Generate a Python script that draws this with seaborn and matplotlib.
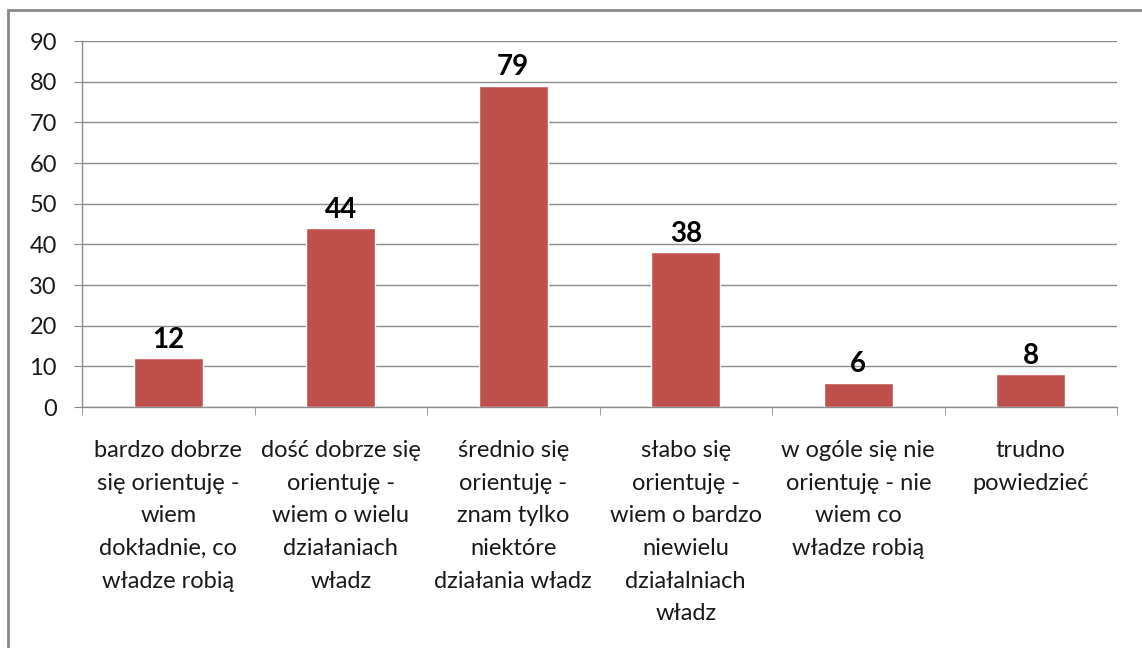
import numpy as np
import pandas as pd
import matplotlib
matplotlib.use('Agg')
import matplotlib.pyplot as plt
import seaborn as sns

kategorie = [
    'bardzo dobrze\nsię orientuję -\nwiem\ndokładnie, co\nwładze robią',
    'dość dobrze się\norientuję -\nwiem o wielu\ndziałaniach\nwładz',
    'średnio się\norientuję -\nznam tylko\nniektóre\ndziałania władz',
    'słabo się\norientuję -\nwiem o bardzo\nniewielu\ndziałalniach\nwładz',
    'w ogóle się nie\norientuję - nie\nwiem co\nwładze robią',
    'trudno\npowiedzieć',
]
wartosci = [12, 44, 79, 38, 6, 8]
y_ticks = list(range(0, 91, 10))

df = pd.DataFrame({'kat': kategorie, 'n': wartosci})

sns.set_style("white")
plt.rcParams['font.family'] = ['Lato', 'DejaVu Sans']

fig = plt.figure(figsize=(11.42, 6.48), dpi=100)
ax = fig.add_axes([82 / 1142, (648 - 407) / 648, (1117 - 82) / 1142, (407 - 41) / 648])

sns.barplot(data=df, x='kat', y='n', color='#C0504D', width=0.4, saturation=1, ax=ax, zorder=3)

ax.set_ylim(0, 90)
ax.set_xlim(-0.5, len(kategorie) - 0.5)
ax.set_yticks(y_ticks)
ax.yaxis.grid(True, color='#8c8c8c', linewidth=1.0, zorder=0)
ax.set_axisbelow(True)
ax.set_xlabel('')
ax.set_ylabel('')

for s in ['top', 'right']:
    ax.spines[s].set_visible(False)
for s in ['left', 'bottom']:
    ax.spines[s].set_color('#8c8c8c')
    ax.spines[s].set_linewidth(1.0)

ax.tick_params(axis='y', length=6, color='#8c8c8c', labelsize=17, pad=12, left=True)
ax.tick_params(axis='x', length=0, labelsize=17, pad=24)
ax.set_xticks(np.arange(-0.5, len(kategorie)), minor=True)
ax.tick_params(axis='x', which='minor', length=6, color='#8c8c8c', bottom=True)
for lab in ax.get_xticklabels():
    lab.set_linespacing(1.68)
    lab.set_color('#1a1a1a')
for lab in ax.get_yticklabels():
    lab.set_color('#1a1a1a')

ax.bar_label(ax.containers[0], fontsize=20, fontweight='bold', padding=4, color='black')

# ramka wykresu (jak w Excelu)
fig.patches.append(plt.Rectangle((8 / 1142, -0.1), 1.2, (648 - 10) / 648 + 0.1,
                                 transform=fig.transFigure, fill=False,
                                 edgecolor='#8a8a8a', linewidth=2.0))

fig.savefig('out.png', dpi=100)
